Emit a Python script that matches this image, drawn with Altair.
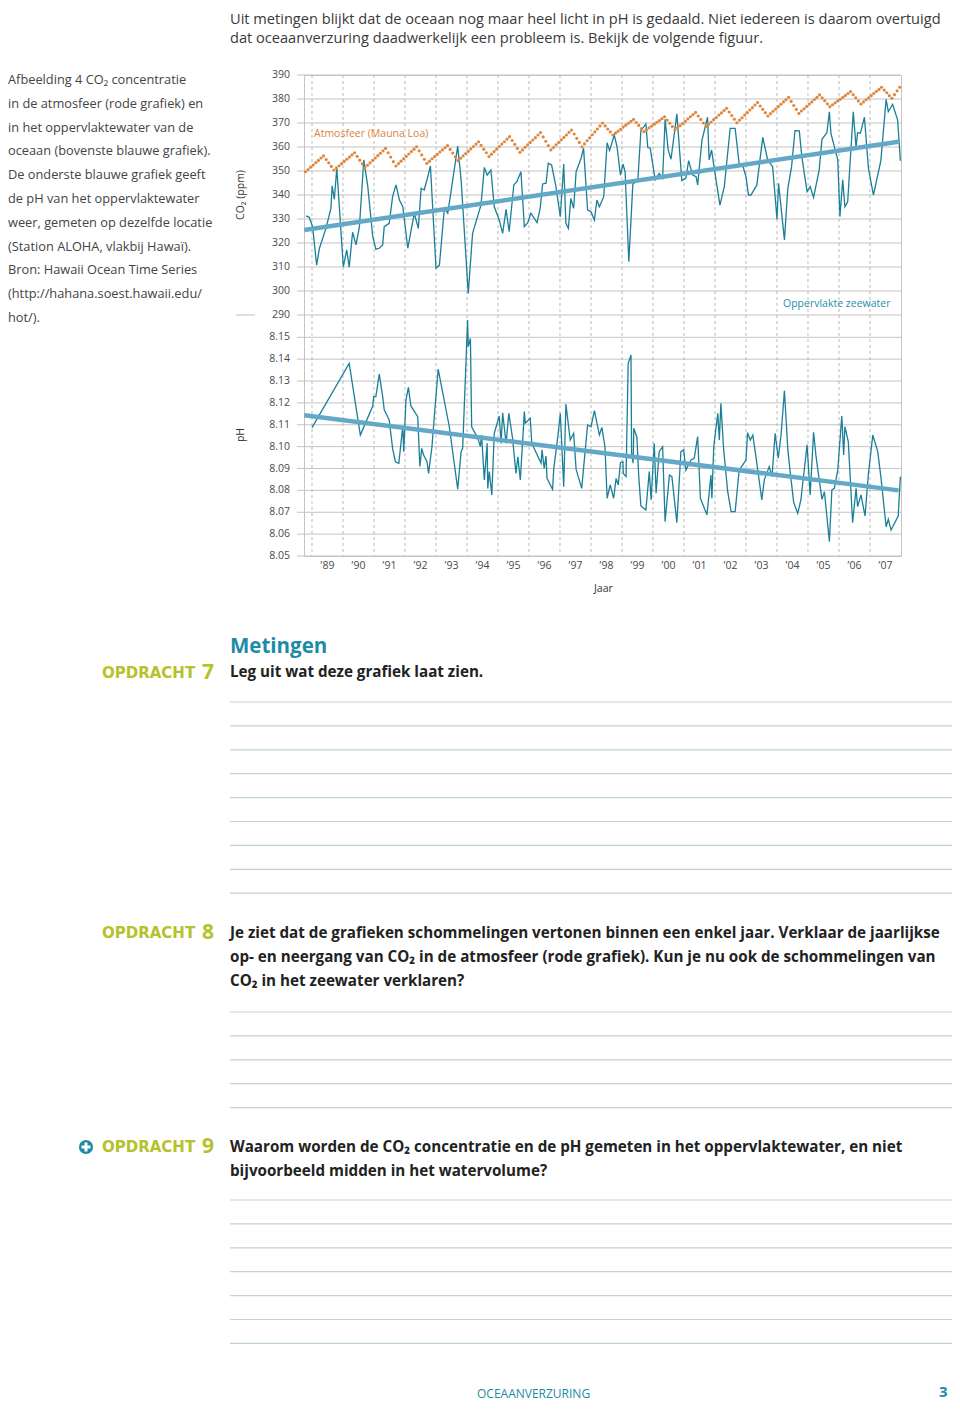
import altair as alt
import pandas as pd

# ---------------- data ----------------
# Mauna Loa monthly CO2 (ppm), Oct 1988 .. Dec 2007
atm_start = 1988.79
atm_co2 = [
    349.7, 350.6, 351.6,
    352.5, 353.5, 354.4, 355.4, 356.3, 354.8, 353.4, 351.9, 350.4, 351.3, 352.2, 353.1,
    354.0, 354.9, 355.8, 356.7, 357.6, 356.1, 354.5, 353.0, 351.4, 352.4, 353.4, 354.4,
    355.4, 356.4, 357.4, 358.4, 359.4, 357.6, 355.8, 353.9, 352.1, 353.1, 354.1, 355.1,
    356.1, 357.1, 358.1, 359.1, 360.1, 358.4, 356.7, 354.9, 353.2, 354.1, 355.1, 356.0,
    356.9, 357.9, 358.8, 359.7, 360.6, 359.0, 357.5, 355.9, 354.3, 355.3, 356.3, 357.3,
    358.2, 359.2, 360.2, 361.2, 362.2, 360.7, 359.1, 357.6, 356.0, 357.0, 358.1, 359.1,
    360.2, 361.2, 362.2, 363.3, 364.3, 362.7, 361.1, 359.4, 357.8, 358.8, 359.9, 360.9,
    361.9, 362.9, 363.9, 365.0, 366.0, 364.2, 362.4, 360.6, 358.8, 359.8, 360.9, 361.9,
    363.0, 364.0, 365.0, 366.1, 367.1, 365.4, 363.6, 361.9, 360.1, 361.3, 362.6, 363.8,
    365.1, 366.3, 367.5, 368.8, 370.0, 368.8, 367.5, 366.3, 365.0, 365.8, 366.6, 367.4,
    368.3, 369.1, 369.9, 370.7, 371.5, 370.2, 369.0, 367.7, 366.4, 367.2, 368.0, 368.7,
    369.5, 370.3, 371.0, 371.8, 372.6, 371.2, 369.9, 368.5, 367.1, 368.0, 368.9, 369.8,
    370.7, 371.7, 372.6, 373.5, 374.4, 372.9, 371.5, 370.0, 368.5, 369.5, 370.4, 371.4,
    372.3, 373.3, 374.2, 375.2, 376.1, 374.6, 373.1, 371.6, 370.1, 371.2, 372.2, 373.3,
    374.3, 375.4, 376.4, 377.5, 378.5, 377.1, 375.7, 374.3, 372.9, 373.9, 374.9, 375.8,
    376.8, 377.8, 378.8, 379.7, 380.7, 379.0, 377.3, 375.7, 374.0, 375.0, 375.9, 376.9,
    377.9, 378.8, 379.8, 380.7, 381.7, 380.5, 379.3, 378.0, 376.8, 377.6, 378.4, 379.2,
    379.9, 380.7, 381.5, 382.3, 383.1, 381.8, 380.5, 379.2, 377.9, 378.8, 379.7, 380.5,
    381.4, 382.3, 383.2, 384.0, 384.9, 383.7, 382.6, 381.4, 380.3, 381.8, 383.4, 384.9,
]

# Surface seawater CO2 (year, ppm)
sea_co2 = [
    (1988.81, 331.3), (1988.91, 330.7), (1989.02, 326.8), (1989.15, 310.8), (1989.24, 317.8),
    (1989.45, 326.1), (1989.61, 334.4), (1989.65, 343.8), (1989.72, 338.2), (1989.80, 351.1),
    (1990.01, 310.1), (1990.12, 317.1), (1990.20, 309.9), (1990.31, 324.5), (1990.42, 319.2),
    (1990.53, 326.8), (1990.67, 354.6), (1990.80, 343.5), (1990.96, 322.6), (1991.06, 317.4),
    (1991.17, 317.8), (1991.28, 319.2), (1991.33, 326.8), (1991.49, 328.2), (1991.60, 339.3),
    (1991.71, 344.2), (1991.82, 337.9), (1991.93, 335.1), (1992.09, 317.8), (1992.30, 332.4),
    (1992.43, 326.1), (1992.52, 342.8), (1992.62, 342.1), (1992.73, 347.4), (1992.82, 352.1),
    (1993.00, 309.5), (1993.11, 310.8), (1993.27, 334.4), (1993.38, 332.4), (1993.54, 346.3),
    (1993.70, 360.4), (1993.81, 346.3), (1994.04, 299.0), (1994.18, 324.0), (1994.45, 335.8),
    (1994.56, 351.5), (1994.65, 348.3), (1994.77, 350.4), (1994.88, 335.1), (1995.04, 329.6),
    (1995.15, 324.0), (1995.26, 334.0), (1995.36, 324.7), (1995.51, 344.2), (1995.61, 345.6),
    (1995.74, 349.7), (1995.85, 326.8), (1995.96, 328.5), (1996.06, 332.4), (1996.17, 330.3),
    (1996.26, 328.5), (1996.36, 334.4), (1996.44, 344.6), (1996.55, 344.9), (1996.62, 353.2),
    (1996.73, 352.5), (1996.87, 343.5), (1997.01, 331.0), (1997.12, 352.9), (1997.19, 328.2),
    (1997.27, 326.1), (1997.35, 338.6), (1997.44, 334.4), (1997.52, 349.7), (1997.68, 355.3),
    (1997.76, 359.5), (1997.89, 333.8), (1998.00, 333.0), (1998.11, 329.6), (1998.19, 337.9),
    (1998.27, 335.1), (1998.41, 339.3), (1998.52, 361.8), (1998.60, 358.5), (1998.75, 365.0),
    (1998.84, 360.1), (1998.95, 348.3), (1999.03, 352.9), (1999.10, 349.7), (1999.22, 312.2),
    (1999.35, 344.6), (1999.51, 346.0), (1999.61, 366.8), (1999.77, 369.6), (1999.83, 359.9),
    (1999.91, 359.5), (2000.07, 346.3), (2000.20, 349.0), (2000.31, 346.9), (2000.39, 371.5),
    (2000.49, 358.8), (2000.58, 354.9), (2000.77, 373.8), (2000.93, 346.0), (2001.06, 346.9),
    (2001.15, 354.3), (2001.28, 348.3), (2001.39, 347.6), (2001.44, 344.2), (2001.58, 362.9),
    (2001.76, 372.4), (2001.81, 354.6), (2001.89, 358.8), (2002.00, 349.0), (2002.16, 335.8),
    (2002.30, 343.5), (2002.49, 367.8), (2002.65, 367.8), (2002.78, 352.9), (2002.89, 352.5),
    (2003.00, 347.6), (2003.08, 340.0), (2003.16, 340.0), (2003.35, 344.2), (2003.54, 364.0),
    (2003.70, 354.6), (2003.86, 351.8), (2004.00, 329.9), (2004.05, 344.9), (2004.24, 321.3),
    (2004.35, 342.8), (2004.47, 351.8), (2004.58, 366.8), (2004.72, 366.7), (2004.80, 356.0),
    (2004.97, 341.4), (2005.07, 343.5), (2005.18, 339.0), (2005.36, 350.4), (2005.45, 363.2),
    (2005.61, 366.0), (2005.69, 374.7), (2005.74, 365.7), (2005.96, 354.6), (2006.03, 331.0),
    (2006.12, 346.3), (2006.19, 335.1), (2006.28, 337.2), (2006.46, 374.7), (2006.55, 359.9),
    (2006.60, 366.0), (2006.69, 365.7), (2006.82, 372.4), (2006.95, 351.1), (2007.11, 340.0),
    (2007.35, 354.3), (2007.52, 379.9), (2007.59, 374.7), (2007.73, 377.8), (2007.89, 371.3),
    (2007.98, 354.3),
]

# Surface seawater pH (year, pH)
sea_ph = [
    (1989.00, 8.1087), (1990.20, 8.1381), (1990.56, 8.1053), (1990.96, 8.1186), (1990.99, 8.1229),
    (1991.06, 8.1229), (1991.17, 8.1332), (1991.28, 8.1229), (1991.33, 8.1168), (1991.49, 8.1122),
    (1991.60, 8.0992), (1991.69, 8.0931), (1991.80, 8.0924), (1991.93, 8.1095), (1991.96, 8.0977),
    (1992.03, 8.1213), (1992.11, 8.1271), (1992.19, 8.1186), (1992.41, 8.1137), (1992.48, 8.0909),
    (1992.54, 8.0992), (1992.60, 8.0962), (1992.71, 8.0931), (1992.76, 8.0878), (1992.87, 8.1000),
    (1992.97, 8.1180), (1993.07, 8.1354), (1993.43, 8.1091), (1993.70, 8.0806), (1993.81, 8.0977),
    (1993.86, 8.0992), (1993.97, 8.1396), (1994.02, 8.1579), (1994.04, 8.1457), (1994.11, 8.1495),
    (1994.15, 8.1091), (1994.35, 8.1038), (1994.43, 8.1000), (1994.47, 8.1053), (1994.56, 8.0848),
    (1994.65, 8.1015), (1994.67, 8.0809), (1994.72, 8.0886), (1994.80, 8.0779), (1994.88, 8.1061),
    (1995.04, 8.1140), (1995.10, 8.1015), (1995.15, 8.1155), (1995.26, 8.1015), (1995.35, 8.1152),
    (1995.47, 8.1038), (1995.58, 8.0878), (1995.64, 8.0954), (1995.72, 8.0848), (1995.85, 8.1160),
    (1995.88, 8.1107), (1996.04, 8.1130), (1996.09, 8.1015), (1996.39, 8.0924), (1996.42, 8.0985),
    (1996.49, 8.0901), (1996.55, 8.0957), (1996.58, 8.0855), (1996.76, 8.0805), (1996.80, 8.0901),
    (1996.93, 8.1046), (1997.01, 8.1152), (1997.12, 8.0817), (1997.19, 8.1195), (1997.33, 8.1030),
    (1997.44, 8.1061), (1997.52, 8.0896), (1997.70, 8.0809), (1997.89, 8.1099), (1998.00, 8.1091),
    (1998.11, 8.1165), (1998.27, 8.1053), (1998.35, 8.1088), (1998.45, 8.1000), (1998.52, 8.0764),
    (1998.62, 8.0825), (1998.73, 8.0764), (1998.81, 8.0855), (1998.88, 8.0825), (1998.95, 8.0927),
    (1999.03, 8.0931), (1999.04, 8.0878), (1999.13, 8.0863), (1999.20, 8.1381), (1999.29, 8.1419),
    (1999.31, 8.0970), (1999.36, 8.0924), (1999.38, 8.1084), (1999.48, 8.1043), (1999.54, 8.0863),
    (1999.61, 8.0729), (1999.77, 8.0710), (1999.88, 8.0886), (1999.94, 8.0756), (2000.04, 8.1015),
    (2000.10, 8.0787), (2000.20, 8.0977), (2000.31, 8.1000), (2000.39, 8.0657), (2000.53, 8.0870),
    (2000.61, 8.0863), (2000.77, 8.0652), (2000.90, 8.0977), (2000.99, 8.0985), (2001.06, 8.0893),
    (2001.23, 8.0939), (2001.33, 8.0947), (2001.44, 8.1046), (2001.53, 8.0764), (2001.74, 8.0688),
    (2001.87, 8.0870), (2001.90, 8.0764), (2001.96, 8.1000), (2002.09, 8.1152), (2002.14, 8.1030),
    (2002.19, 8.1198), (2002.28, 8.0985), (2002.41, 8.0794), (2002.52, 8.0703), (2002.65, 8.0703),
    (2002.78, 8.0893), (2003.00, 8.0939), (2003.05, 8.1064), (2003.14, 8.1030), (2003.22, 8.1053),
    (2003.32, 8.0954), (2003.51, 8.0756), (2003.59, 8.0848), (2003.75, 8.0909), (2003.84, 8.0863),
    (2003.94, 8.1061), (2004.04, 8.0947), (2004.13, 8.1053), (2004.18, 8.1145), (2004.24, 8.1256),
    (2004.35, 8.0985), (2004.43, 8.0878), (2004.54, 8.0744), (2004.67, 8.0695), (2004.77, 8.0756),
    (2004.97, 8.1008), (2005.07, 8.0779), (2005.18, 8.1066), (2005.26, 8.0954), (2005.45, 8.0759),
    (2005.53, 8.0794), (2005.69, 8.0566), (2005.77, 8.0802), (2005.85, 8.0809), (2005.96, 8.0893),
    (2006.09, 8.1140), (2006.15, 8.0962), (2006.19, 8.1091), (2006.30, 8.1023), (2006.44, 8.0652),
    (2006.55, 8.0809), (2006.60, 8.0726), (2006.71, 8.0779), (2006.84, 8.0683), (2006.95, 8.0878),
    (2007.09, 8.1053), (2007.25, 8.0977), (2007.35, 8.0863), (2007.52, 8.0634), (2007.59, 8.0668),
    (2007.68, 8.0619), (2007.91, 8.0683), (2007.98, 8.0863),
]

# trend lines (start / end)
trend_years = [1988.75, 2007.92]
trend_co2 = [325.4, 362.2]
trend_ph = [8.1144, 8.0800]

co2_ticks = [290, 300, 310, 320, 330, 340, 350, 360, 370, 380, 390]
ph_ticks = [8.05, 8.06, 8.07, 8.08, 8.09, 8.10, 8.11, 8.12, 8.13, 8.14, 8.15]
years = list(range(1989, 2008))
year_labels = ["\u2019" + str(y)[2:] for y in years]

# ---------------- page texts ----------------
intro = [
    "Uit metingen blijkt dat de oceaan nog maar heel licht in pH is gedaald. Niet iedereen is daarom overtuigd",
    "dat oceaanverzuring daadwerkelijk een probleem is. Bekijk de volgende figuur.",
]
caption = [
    "Afbeelding 4 CO\u2082 concentratie",
    "in de atmosfeer (rode grafiek) en",
    "in het oppervlaktewater van de",
    "oceaan (bovenste blauwe grafiek).",
    "De onderste blauwe grafiek geeft",
    "de pH van het oppervlaktewater",
    "weer, gemeten op dezelfde locatie",
    "(Station ALOHA, vlakbij Hawaï).",
    "Bron: Hawaii Ocean Time Series",
    "(http://hahana.soest.hawaii.edu/",
    "hot/).",
]
q7 = ["Leg uit wat deze grafiek laat zien."]
q8 = [
    "Je ziet dat de grafieken schommelingen vertonen binnen een enkel jaar. Verklaar de jaarlijkse",
    "op- en neergang van CO\u2082 in de atmosfeer (rode grafiek). Kun je nu ook de schommelingen van",
    "CO\u2082 in het zeewater verklaren?",
]
q9 = [
    "Waarom worden de CO\u2082 concentratie en de pH gemeten in het oppervlaktewater, en niet",
    "bijvoorbeeld midden in het watervolume?",
]

# ---------------- styling ----------------
F = "Open Sans"
W, H = 597, 481          # plot area
X0, Y0 = 304, 75         # page position of plot origin
GRID = "#c4c4c4"
BLUE = "#1b7f97"
TREND = "#63a9c7"
ORANGE = "#e0873d"
TEAL = "#1d8ba6"
LIME = "#b5c22c"
TXT = "#3a3a3a"
LINEC = "#bfd1da"

xscale = alt.Scale(domain=[1988.742, 2008.0], range=[0, W], nice=False, zero=False)
co2_scale = alt.Scale(domain=[290, 390], range=[240, 0], nice=False, zero=False)
ph_scale = alt.Scale(domain=[8.05, 8.15], range=[481, 262.3], nice=False, zero=False)

one = pd.DataFrame({"k": [0]})


def txt(s, px, py, size, color, weight="normal", font=F, align="left", angle=0):
    return alt.Chart(one).mark_text(
        text=s, fontSize=size, color=color, fontWeight=weight, font=font,
        align=align, baseline="middle", angle=angle,
    ).encode(x=alt.value(px - X0), y=alt.value(py - Y0))


def hline(px1, px2, py, color, width=1.0):
    return alt.Chart(one).mark_rule(color=color, strokeWidth=width).encode(
        x=alt.value(px1 - X0), x2=alt.value(px2 - X0), y=alt.value(py - Y0))


def vline(px, py1, py2, color, width=1.0):
    return alt.Chart(one).mark_rule(color=color, strokeWidth=width).encode(
        x=alt.value(px - X0), y=alt.value(py1 - Y0), y2=alt.value(py2 - Y0))


layers = []

# grid
co2_df = pd.DataFrame({"v": co2_ticks, "lab": [str(v) for v in co2_ticks]})
ph_df = pd.DataFrame({"v": ph_ticks, "lab": [f"{v:.2f}" for v in ph_ticks]})
layers.append(alt.Chart(co2_df).mark_rule(color=GRID, strokeWidth=1).encode(
    y=alt.Y("v:Q", scale=co2_scale, axis=None), x=alt.value(-7), x2=alt.value(W)))
layers.append(alt.Chart(ph_df).mark_rule(color=GRID, strokeWidth=1).encode(
    y=alt.Y("v:Q", scale=ph_scale, axis=None), x=alt.value(-7), x2=alt.value(W)))
yr_df = pd.DataFrame({"yr": years, "mid": [y + 0.5 for y in years], "lab": year_labels})
layers.append(alt.Chart(yr_df).mark_rule(color="#a8a8a8", strokeWidth=0.8, strokeDash=[3, 3]).encode(
    x=alt.X("yr:Q", scale=xscale, axis=None), y=alt.value(0), y2=alt.value(H)))

# tick labels
layers.append(alt.Chart(co2_df).mark_text(align="right", baseline="middle", fontSize=10.5, font=F, color="#4a4a4a").encode(
    y=alt.Y("v:Q", scale=co2_scale, axis=None), x=alt.value(-14), text="lab:N"))
layers.append(alt.Chart(ph_df).mark_text(align="right", baseline="middle", fontSize=10.5, font=F, color="#4a4a4a").encode(
    y=alt.Y("v:Q", scale=ph_scale, axis=None), x=alt.value(-14), text="lab:N"))
layers.append(alt.Chart(yr_df).mark_text(align="center", baseline="middle", fontSize=10.5, font=F, color="#4a4a4a").encode(
    x=alt.X("mid:Q", scale=xscale, axis=None), y=alt.value(491), text="lab:N"))

# data series
sea_df = pd.DataFrame(sea_co2, columns=["t", "v"])
ph_series = pd.DataFrame(sea_ph, columns=["t", "v"])
atm_df = pd.DataFrame({"t": [atm_start + i / 12 for i in range(len(atm_co2))], "v": atm_co2})
tr_df = pd.DataFrame({"t": trend_years, "co2": trend_co2, "ph": trend_ph})

layers.append(alt.Chart(sea_df).mark_line(color=BLUE, strokeWidth=1.3).encode(
    x=alt.X("t:Q", scale=xscale, axis=None), y=alt.Y("v:Q", scale=co2_scale, axis=None)))
layers.append(alt.Chart(ph_series).mark_line(color=BLUE, strokeWidth=1.3).encode(
    x=alt.X("t:Q", scale=xscale, axis=None), y=alt.Y("v:Q", scale=ph_scale, axis=None)))
layers.append(alt.Chart(tr_df).mark_line(color=TREND, strokeWidth=4.5).encode(
    x=alt.X("t:Q", scale=xscale, axis=None), y=alt.Y("co2:Q", scale=co2_scale, axis=None)))
layers.append(alt.Chart(tr_df).mark_line(color=TREND, strokeWidth=4.5).encode(
    x=alt.X("t:Q", scale=xscale, axis=None), y=alt.Y("ph:Q", scale=ph_scale, axis=None)))
layers.append(alt.Chart(atm_df).mark_circle(color=ORANGE, size=10, opacity=1).encode(
    x=alt.X("t:Q", scale=xscale, axis=None), y=alt.Y("v:Q", scale=co2_scale, axis=None)))

# chart annotations
layers.append(txt("Atmosfeer (Mauna Loa)", 314, 134, 10.5, "#d9843f"))
layers.append(txt("Oppervlakte zeewater", 783, 304, 10.5, "#2a8ea8"))
layers.append(txt("CO\u2082 (ppm)", 241, 195, 10.5, "#333333", angle=270, align="center"))
layers.append(txt("pH", 241, 435, 10.5, "#333333", angle=270, align="center"))
layers.append(txt("Jaar", 594, 589, 10.5, "#333333"))
layers.append(hline(236, 255, 315, "#bdbdbd", 1))

# page text
intro_y = [19.5, 38.5]
for s, yy in zip(intro, intro_y):
    layers.append(txt(s, 230, yy, 14.6, TXT))
for i, s in enumerate(caption):
    layers.append(txt(s, 8, 80 + 23.8 * i, 12.8, "#444444"))

layers.append(txt("Metingen", 230, 647, 20.5, TEAL, weight="bold"))
for label_y, num in [(673, "7"), (933, "8"), (1147, "9")]:
    layers.append(txt("OPDRACHT", 102, label_y, 15, LIME, weight="bold", font="DejaVu Sans"))
    layers.append(txt(num, 202, label_y, 21, LIME, weight="bold"))
for i, s in enumerate(q7):
    layers.append(txt(s, 230, 672 + 24 * i, 15.2, "#222222", weight="bold"))
for i, s in enumerate(q8):
    layers.append(txt(s, 230, 933 + 24 * i, 15.2, "#222222", weight="bold"))
for i, s in enumerate(q9):
    layers.append(txt(s, 230, 1147 + 24 * i, 15.2, "#222222", weight="bold"))

# plus icon
layers.append(alt.Chart(one).mark_point(shape="circle", filled=True, size=200, color=TEAL, opacity=1).encode(
    x=alt.value(86 - X0), y=alt.value(1147 - Y0)))
layers.append(hline(81.5, 90.5, 1147, "white", 3))
layers.append(vline(86, 1142.5, 1151.5, "white", 3))

# answer lines
for start, n in [(702, 9), (1012, 5), (1200, 7)]:
    for k in range(n):
        layers.append(hline(230, 952, start + 23.9 * k, LINEC, 1.2))

# footer
layers.append(txt("OCEAANVERZURING", 477, 1394, 12, TEAL))
layers.append(txt("3", 939, 1392, 15, TEAL, weight="bold"))

chart = alt.layer(*layers).resolve_scale(y="independent").properties(
    width=W, height=H,
    padding={"left": 296, "top": 67, "right": 51, "bottom": 847},
    autosize=alt.AutoSizeParams(type="none"),
).configure_view(stroke=GRID, strokeWidth=1)

chart.save("out.html", embed_options={"renderer": "svg", "actions": False})
